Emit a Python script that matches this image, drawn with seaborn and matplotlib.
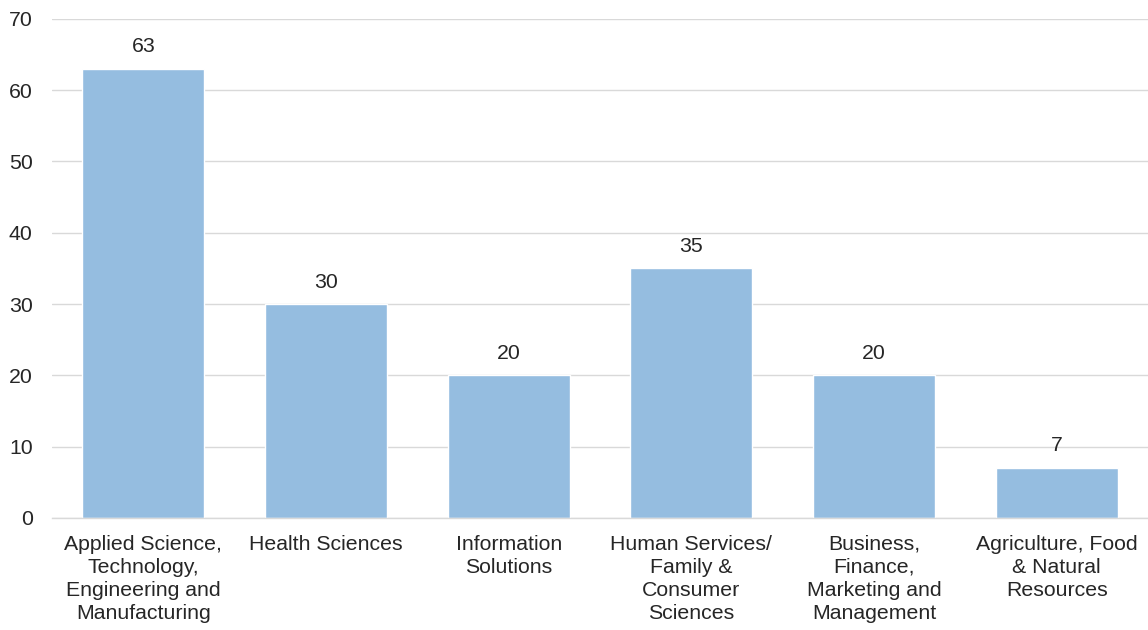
import pandas as pd
import seaborn as sns
import matplotlib.pyplot as plt

categories = [
    "Applied Science,\nTechnology,\nEngineering and\nManufacturing",
    "Health Sciences",
    "Information\nSolutions",
    "Human Services/\nFamily &\nConsumer\nSciences",
    "Business,\nFinance,\nMarketing and\nManagement",
    "Agriculture, Food\n& Natural\nResources",
]
counts = [63, 30, 20, 35, 20, 7]
yticks = [0, 10, 20, 30, 40, 50, 60, 70]

df = pd.DataFrame({"category": categories, "count": counts})

sns.set_theme(style="white")
plt.rcParams["font.family"] = ["Liberation Sans", "DejaVu Sans"]

fig = plt.figure(figsize=(11.48, 6.3), dpi=100)
ax = fig.add_axes([0.0453, 0.178, 0.9547, 0.792])

sns.barplot(data=df, x="category", y="count", color="#95BDE0",
            saturation=1, width=0.668, ax=ax, zorder=3)

ax.set_ylim(0, 70)
ax.set_yticks(yticks)
ax.grid(axis="y", color="#D9D9D9", linewidth=1, zorder=0)
for s in ["top", "right", "left"]:
    ax.spines[s].set_visible(False)
ax.spines["bottom"].set_color("#D9D9D9")
ax.spines["bottom"].set_linewidth(1)
ax.spines["bottom"].set_zorder(4)

ax.set_xlabel("")
ax.set_ylabel("")
ax.tick_params(axis="both", length=0, labelsize=15.3, labelcolor="#262626")
ax.tick_params(axis="y", pad=14)
ax.tick_params(axis="x", pad=12)
for lbl in ax.get_xticklabels():
    lbl.set_linespacing(1.27)

ax.bar_label(ax.containers[0], fmt="%d", padding=9, fontsize=15.3, color="#262626")

plt.savefig("out.png", dpi=100)
